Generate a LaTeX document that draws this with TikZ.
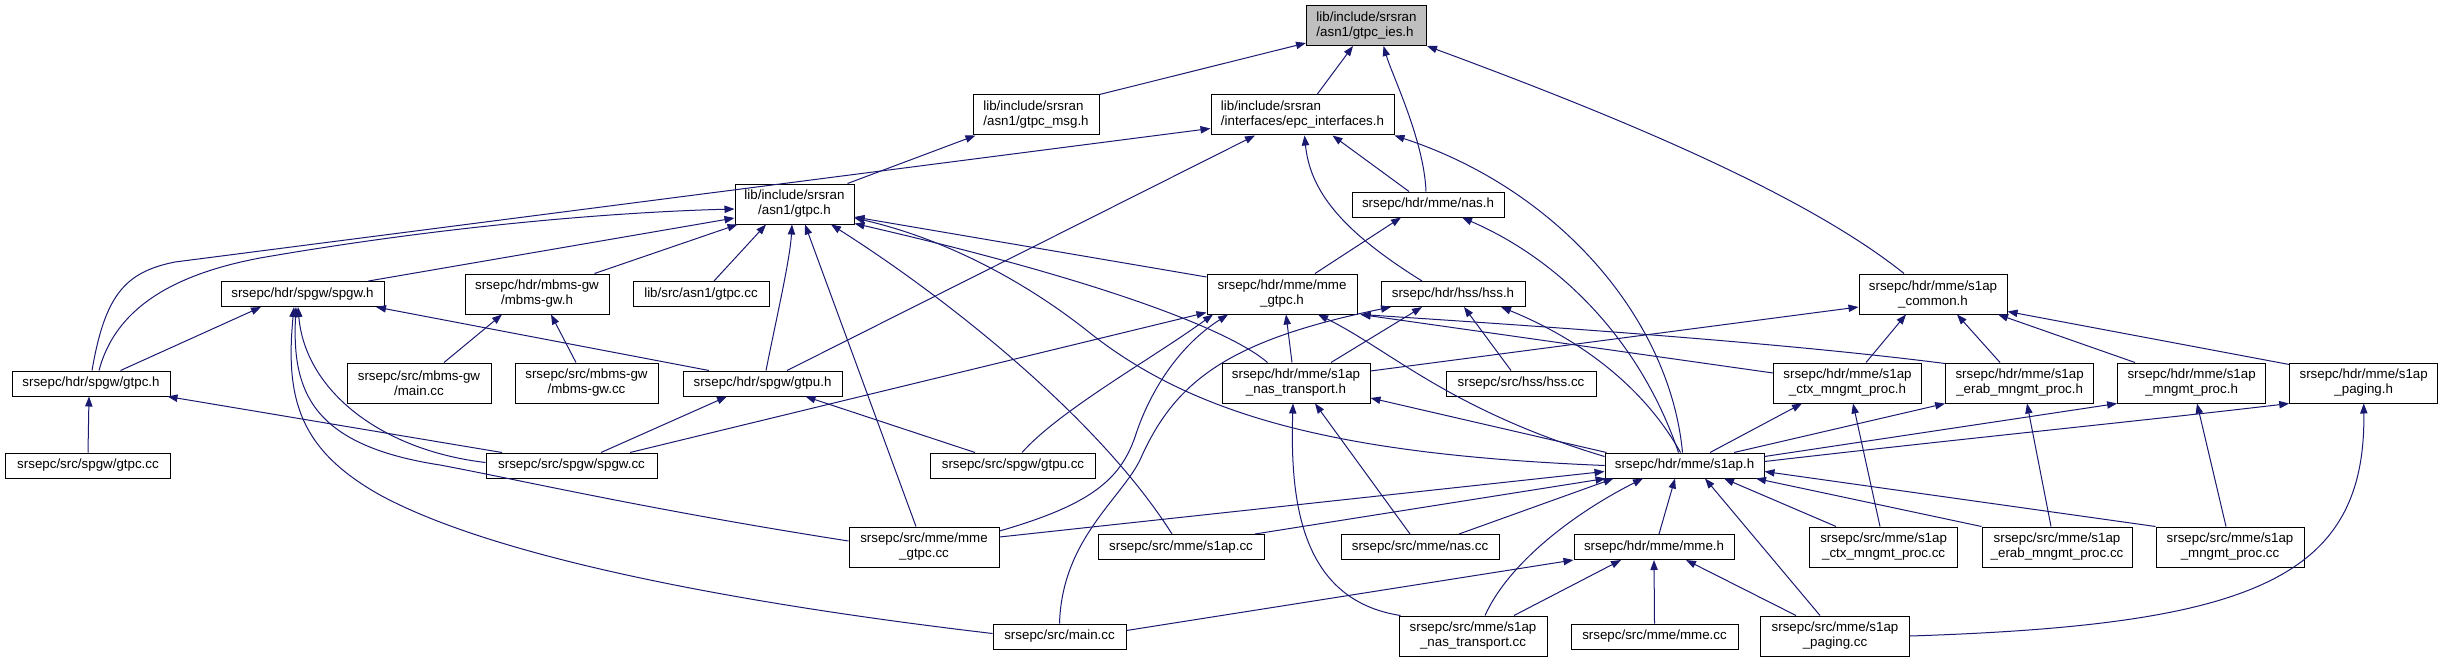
\documentclass[tikz,border=0pt]{standalone}
\usepackage{fontspec}
\setmainfont{Liberation Sans}
\usetikzlibrary{arrows.meta,calc}
\definecolor{edgeblue}{HTML}{191970}
\begin{document}
\begin{tikzpicture}[x=0.75pt,y=-0.75pt,>={Triangle[length=7.5pt,width=5.5pt]},
  file/.style={draw=black,line width=0.75pt,minimum height=18.75pt,inner sep=0pt,
    font=\fontsize{10}{11.25}\selectfont,align=center},
  two/.style={minimum height=30pt},
  bw/.style={minimum width=#1*0.75pt},
  cur/.style={fill=black!25},
  dep/.style={->,draw=edgeblue,line width=0.75pt}]
  \useasboundingbox (0,0) rectangle (2443,663);
  % rows from top to bottom
  \node[file,cur,two,bw=120,align=left] (gtpcies) at (1366.5,25.5) {lib/include/srsran\\/asn1/gtpc\_ies.h};
  \node[file,two,bw=126,align=left] (gtpcmsg) at (1036,115) {lib/include/srsran\\/asn1/gtpc\_msg.h};
  \node[file,two,bw=183,align=left] (epcif) at (1302.5,115) {lib/include/srsran\\/interfaces/epc\_interfaces.h};
  \node[file,two,bw=119] (gtpch) at (794.5,204) {lib/include/srsran\\/asn1/gtpc.h};
  \node[file,bw=152] (nash) at (1428,204.5) {srsepc/hdr/mme/nas.h};
  \node[file,bw=163] (spgwh) at (302.5,294) {srsepc/hdr/spgw/spgw.h};
  \node[file,two,bw=144] (mbmsh) at (537,294) {srsepc/hdr/mbms-gw\\/mbms-gw.h};
  \node[file,bw=136] (libgtpccc) at (701,294) {lib/src/asn1/gtpc.cc};
  \node[file,two,bw=150] (mmegtpch) at (1282,294) {srsepc/hdr/mme/mme\\\_gtpc.h};
  \node[file,bw=144] (hssh) at (1453,294) {srsepc/hdr/hss/hss.h};
  \node[file,two,bw=148] (s1apcommon) at (1933,294) {srsepc/hdr/mme/s1ap\\\_common.h};
  \node[file,bw=158] (spgwgtpch) at (91,383.5) {srsepc/hdr/spgw/gtpc.h};
  \node[file,two,bw=144] (mbmsmain) at (419,383) {srsepc/src/mbms-gw\\/main.cc};
  \node[file,two,bw=143] (mbmscc) at (586.5,383) {srsepc/src/mbms-gw\\/mbms-gw.cc};
  \node[file,bw=159] (gtpuh) at (762.5,383.5) {srsepc/hdr/spgw/gtpu.h};
  \node[file,two,bw=148] (nastransh) at (1296,383) {srsepc/hdr/mme/s1ap\\\_nas\_transport.h};
  \node[file,bw=150] (hsscc) at (1521,383.5) {srsepc/src/hss/hss.cc};
  \node[file,two,bw=148] (ctxh) at (1847.5,383) {srsepc/hdr/mme/s1ap\\\_ctx\_mngmt\_proc.h};
  \node[file,two,bw=148] (erabh) at (2019.6,383) {srsepc/hdr/mme/s1ap\\\_erab\_mngmt\_proc.h};
  \node[file,two,bw=148] (mngmth) at (2191.6,383) {srsepc/hdr/mme/s1ap\\\_mngmt\_proc.h};
  \node[file,two,bw=148] (pagingh) at (2363.7,383) {srsepc/hdr/mme/s1ap\\\_paging.h};
  \node[file,bw=165] (spgwgtpccc) at (88,465.5) {srsepc/src/spgw/gtpc.cc};
  \node[file,bw=171] (spgwcc) at (571.5,465.5) {srsepc/src/spgw/spgw.cc};
  \node[file,bw=165] (gtpucc) at (1013,465.5) {srsepc/src/spgw/gtpu.cc};
  \node[file,bw=159] (s1aph) at (1684.5,465.5) {srsepc/hdr/mme/s1ap.h};
  \node[file,two,bw=150] (mmegtpccc) at (924,547) {srsepc/src/mme/mme\\\_gtpc.cc};
  \node[file,bw=166] (s1apcc) at (1181,547) {srsepc/src/mme/s1ap.cc};
  \node[file,bw=158] (nascc) at (1420,547) {srsepc/src/mme/nas.cc};
  \node[file,bw=160] (mmeh) at (1654,547) {srsepc/hdr/mme/mme.h};
  \node[file,two,bw=148] (ctxcc) at (1883.6,547) {srsepc/src/mme/s1ap\\\_ctx\_mngmt\_proc.cc};
  \node[file,two,bw=150] (erabcc) at (2057,547) {srsepc/src/mme/s1ap\\\_erab\_mngmt\_proc.cc};
  \node[file,two,bw=148] (mngmtcc) at (2230,547) {srsepc/src/mme/s1ap\\\_mngmt\_proc.cc};
  \node[file,bw=133] (maincc) at (1059.5,636.5) {srsepc/src/main.cc};
  \node[file,two,bw=148] (nastranscc) at (1473,636) {srsepc/src/mme/s1ap\\\_nas\_transport.cc};
  \node[file,bw=167] (mmecc) at (1654.5,636.5) {srsepc/src/mme/mme.cc};
  \node[file,two,bw=149] (pagingcc) at (1835,636) {srsepc/src/mme/s1ap\\\_paging.cc};
  % includes, arrow at the included file
  \draw[dep] (gtpcmsg.north east) -- ($(gtpcies.south west)+(0,-3)$);
  \draw[dep] ($(epcif.north)+(14.5,0)$) -- ($(gtpcies.south)+(-13.5,0)$);
  \draw[dep] ($(nash.north)+(-2,0)$) .. controls (1424,140) and (1392,75) .. ($(gtpcies.south)+(17,0)$);
  \draw[dep] ($(s1apcommon.north)+(-29,0)$) .. controls (1800,190) and (1600,110) .. (gtpcies.south east);
  \draw[dep] ($(gtpch.north east)+(-7,0)$) -- ($(gtpcmsg.south west)+(3,0)$);
  \draw[dep] ($(spgwgtpch.north)+(1,0)$) .. controls (105,295) and (125,272) .. (175,262) -- ($(epcif.south west)+(0,-7)$);
  \draw[dep] ($(gtpuh.north)+(24.5,0)$) -- ($(epcif.south)+(-47.5,0)$);
  \draw[dep] ($(nash.north)+(-19,0)$) -- ($(epcif.south)+(30,0)$);
  \draw[dep] ($(hssh.north)+(-31,0)$) .. controls (1340,230) and (1310,190) .. ($(epcif.south)+(2,0)$);
  \draw[dep] ($(s1aph.north)+(-2,0)$) .. controls (1670,320) and (1560,190) .. (epcif.south east);
  \draw[dep] ($(mmegtpch.north)+(33,0)$) -- ($(nash.south)+(-27,0)$);
  \draw[dep] ($(s1aph.north)+(-6,0)$) .. controls (1640,340) and (1560,260) .. ($(nash.south)+(34,0)$);
  \draw[dep] (maincc.north) .. controls (1062,540) and (1120,500) .. (1140,460) .. controls (1175,380) and (1230,340) .. ($(hssh.south)+(-62,0)$);
  \draw[dep] ($(nastransh.north)+(35,0)$) -- ($(hssh.south)+(-31,0)$);
  \draw[dep] ($(hsscc.north)+(-10,0)$) -- ($(hssh.south)+(11,0)$);
  \draw[dep] ($(s1aph.north)+(-4,0)$) .. controls (1640,380) and (1570,335) .. ($(hssh.south)+(48,0)$);
  \draw[dep] ($(spgwcc.north)+(58.5,0)$) -- ($(mmegtpch.south west)+(0,-2)$);
  \draw[dep] ($(gtpucc.north)+(9,0)$) .. controls (1060,410) and (1150,360) .. ($(mmegtpch.south)+(-69,0)$);
  \draw[dep] ($(mmegtpccc.east)+(0,-16)$) .. controls (1090,505) and (1120,480) .. (1135,437) .. controls (1150,390) and (1180,345) .. ($(mmegtpch.south)+(-54,0)$);
  \draw[dep] ($(nastransh.north)+(-4,0)$) -- ($(mmegtpch.south)+(4,0)$);
  \draw[dep] ($(s1aph.west)+(0,-9)$) .. controls (1450,410) and (1390,350) .. ($(mmegtpch.south)+(36,0)$);
  \draw[dep] ($(ctxh.west)+(0,-10)$) -- ($(mmegtpch.south east)+(3,0)$);
  \draw[dep] ($(erabh.north west)+(0,1)$) .. controls (1800,345) and (1600,330) .. ($(mmegtpch.south east)+(3,0)$);
  \draw[dep] ($(spgwgtpch.north)+(8,0)$) .. controls (115,310) and (170,275) .. (260,258) .. controls (450,225) and (620,212) .. ($(gtpch.west)+(0,5)$);
  \draw[dep] ($(spgwh.north east)+(-16,0)$) -- ($(gtpch.west)+(0,14)$);
  \draw[dep] ($(mbmsh.north east)+(-15,0)$) -- ($(gtpch.south west)+(3,0)$);
  \draw[dep] ($(libgtpccc.north)+(13,0)$) -- ($(gtpch.south)+(-28.5,0)$);
  \draw[dep] ($(gtpuh.north)+(3.5,0)$) .. controls (776,320) and (790,260) .. ($(gtpch.south)+(-2.5,0)$);
  \draw[dep] ($(mmegtpccc.north)+(-8,0)$) -- ($(gtpch.south)+(10.5,0)$);
  \draw[dep] ($(s1apcc.north)+(-9,0)$) .. controls (1100,420) and (950,300) .. ($(gtpch.south)+(36.5,0)$);
  \draw[dep] ($(mmegtpch.west)+(0,-17)$) -- ($(gtpch.east)+(0,13)$);
  \draw[dep] (s1aph.west) .. controls (1350,455) and (1200,420) .. (1090,333) .. controls (1030,285) and (950,240) .. ($(gtpch.east)+(0,14)$);
  \draw[dep] ($(nastransh.north west)+(46,0)$) .. controls (1230,330) and (1100,280) .. ($(gtpch.south east)+(0,-1)$);
  \draw[dep] ($(spgwgtpch.north east)+(-50,0)$) -- ($(spgwh.south)+(-41.5,0)$);
  \draw[dep] ($(gtpuh.north)+(-53.5,0)$) -- ($(spgwh.south)+(73.5,0)$);
  \draw[dep] ($(spgwcc.west)+(0,-3)$) .. controls (380,450) and (305,390) .. ($(spgwh.south)+(-4.5,0)$);
  \draw[dep] ($(mmegtpccc.west)+(0,-6)$) .. controls (650,510) and (520,480) .. (440,465) .. controls (310,445) and (292,390) .. ($(spgwh.south)+(-6.5,0)$);
  \draw[dep] ($(maincc.west)+(0,-3)$) .. controls (750,605) and (500,560) .. (380,495) .. controls (300,450) and (285,400) .. ($(spgwh.south)+(-8.5,0)$);
  \draw[dep] ($(mbmsmain.north)+(25,0)$) -- ($(mbmsh.south)+(-35,0)$);
  \draw[dep] ($(mbmscc.north)+(-10.5,0)$) -- ($(mbmsh.south)+(14,0)$);
  \draw[dep] (spgwgtpccc.north) -- ($(spgwgtpch.south)+(-2,0)$);
  \draw[dep] ($(spgwcc.north)+(-69.5,0)$) -- ($(spgwgtpch.south east)+(-3,0)$);
  \draw[dep] ($(spgwcc.north)+(29.5,0)$) -- ($(gtpuh.south)+(-35.5,0)$);
  \draw[dep] ($(gtpucc.north)+(-38,0)$) -- ($(gtpuh.south east)+(-37,0)$);
  \draw[dep] ($(nastranscc.north west)+(2,0)$) .. controls (1300,600) and (1290,500) .. ($(nastransh.south)+(-3,0)$);
  \draw[dep] ($(nascc.north)+(-10,0)$) -- ($(nastransh.south)+(19,0)$);
  \draw[dep] ($(s1aph.north west)+(2,0)$) -- ($(nastransh.east)+(0,15)$);
  \draw[dep] ($(mmegtpccc.east)+(0,-10)$) -- ($(s1aph.west)+(0,6)$);
  \draw[dep] ($(s1apcc.north)+(74,0)$) -- ($(s1aph.south west)+(1,0)$);
  \draw[dep] ($(nascc.north)+(39,0)$) -- ($(s1aph.south west)+(9,0)$);
  \draw[dep] ($(nastranscc.north)+(12,0)$) .. controls (1510,560) and (1580,510) .. ($(s1aph.south)+(-41.5,0)$);
  \draw[dep] ($(mmeh.north)+(5,0)$) -- ($(s1aph.south)+(-9.5,0)$);
  \draw[dep] ($(pagingcc.north)+(-15,0)$) -- ($(s1aph.south)+(20.5,0)$);
  \draw[dep] ($(ctxcc.north)+(-47.6,0)$) -- ($(s1aph.south)+(39.5,0)$);
  \draw[dep] (erabcc.north west) -- ($(s1aph.south)+(71.5,0)$);
  \draw[dep] (mngmtcc.north west) -- ($(s1aph.east)+(0,6)$);
  \draw[dep] ($(maincc.east)+(0,-6)$) -- (mmeh.south west);
  \draw[dep] ($(nastranscc.north)+(41,0)$) -- ($(mmeh.south)+(-33,0)$);
  \draw[dep] (mmecc.north) -- (mmeh.south);
  \draw[dep] ($(pagingcc.north)+(-39,0)$) -- ($(mmeh.south)+(32,0)$);
  \draw[dep] ($(ctxcc.north)+(-3.6,0)$) -- ($(ctxh.south)+(5.5,0)$);
  \draw[dep] ($(erabcc.north)+(-6,0)$) -- ($(erabh.south)+(7.4,0)$);
  \draw[dep] ($(mngmtcc.north)+(-4,0)$) -- ($(mngmth.south)+(5.4,0)$);
  \draw[dep] (pagingcc.east) .. controls (2250,625) and (2366,580) .. (pagingh.south);
  \draw[dep] ($(s1aph.north)+(25.5,0)$) -- ($(ctxh.south)+(-45.5,0)$);
  \draw[dep] ($(s1aph.north)+(49.5,0)$) -- (erabh.south west);
  \draw[dep] ($(s1aph.north east)+(0,4)$) -- (mngmth.south west);
  \draw[dep] ($(s1aph.east)+(0,-4)$) .. controls (1950,440) and (2150,420) .. (pagingh.south west);
  \draw[dep] ($(nastransh.east)+(0,-12)$) -- ($(s1apcommon.west)+(0,13)$);
  \draw[dep] ($(ctxh.north)+(18.5,0)$) -- ($(s1apcommon.south)+(-27,0)$);
  \draw[dep] ($(erabh.north)+(-19.6,0)$) -- ($(s1apcommon.south)+(24,0)$);
  \draw[dep] ($(mngmth.north)+(-56.6,0)$) -- ($(s1apcommon.south)+(65,0)$);
  \draw[dep] ($(pagingh.north west)+(0,2)$) -- ($(s1apcommon.south east)+(0,-3)$);
\end{tikzpicture}
\end{document}
